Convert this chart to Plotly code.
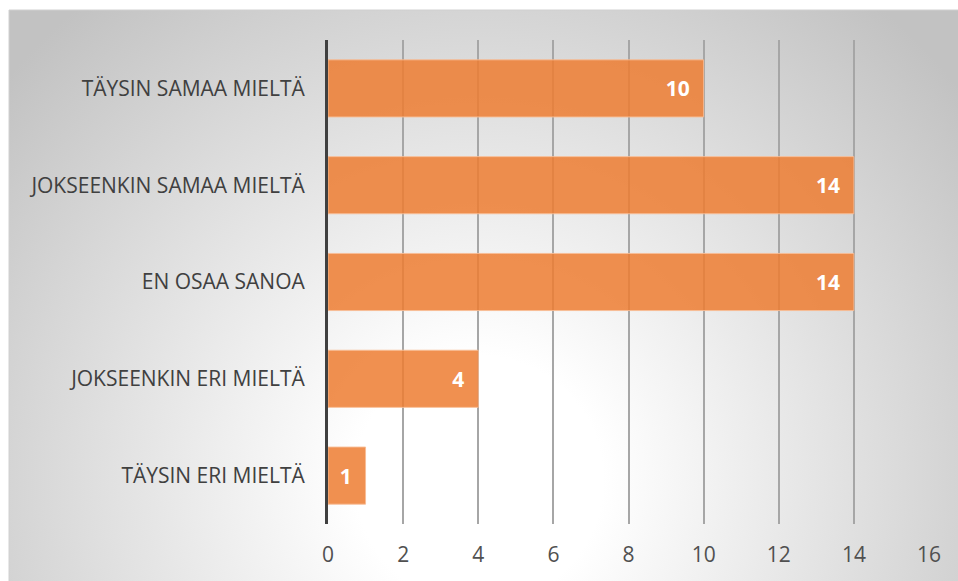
import plotly.graph_objects as go
import base64

categories = ["TÄYSIN SAMAA MIELTÄ", "JOKSEENKIN SAMAA MIELTÄ", "EN OSAA SANOA",
              "JOKSEENKIN ERI MIELTÄ", "TÄYSIN ERI MIELTÄ"]
values = [10, 14, 14, 4, 1]
x_ticks = [0, 2, 4, 6, 8, 10, 12, 14, 16]

W, H = 958, 581
L, R, T, B = 328, 29, 40, 57
pw, ph = W - L - R, H - T - B

def px_x(p):
    return (p - L) / pw

def px_y(p):
    return (H - B - p) / ph

# radial gradient background inside the chart border
bx0, by0 = 9, 10
bw, bh = W - bx0, H - by0
svg = f'''<svg xmlns="http://www.w3.org/2000/svg" width="{bw}" height="{bh}" viewBox="0 0 {bw} {bh}">
<defs><radialGradient id="g" gradientUnits="userSpaceOnUse" cx="470" cy="470" r="620">
<stop offset="0" stop-color="#ffffff"/><stop offset="0.2" stop-color="#ffffff"/>
<stop offset="1" stop-color="#c2c2c2"/></radialGradient></defs>
<rect x="0" y="0" width="{bw}" height="{bh}" fill="url(#g)"/></svg>'''
src = "data:image/svg+xml;base64," + base64.b64encode(svg.encode()).decode()

NB = "\u00a0\u00a0"

fig = go.Figure()
fig.add_trace(go.Bar(
    y=categories, x=values, orientation="h",
    marker=dict(color="rgba(237,125,49,0.85)", line=dict(color="rgba(248,190,150,0.9)", width=1)),
    text=[str(v) + NB for v in values], textposition="inside", insidetextanchor="end",
    textfont=dict(color="white", size=21, family="Open Sans", weight="bold"),
    constraintext="none",
    width=0.59, hoverinfo="skip",
))

fig.add_layout_image(dict(
    source=src, xref="paper", yref="paper",
    x=px_x(bx0), y=px_y(by0), sizex=bw / pw, sizey=bh / ph,
    sizing="stretch", xanchor="left", yanchor="top", layer="below",
))
fig.add_shape(type="rect", xref="paper", yref="paper",
              x0=px_x(bx0), x1=px_x(W + 2), y0=px_y(H + 2), y1=px_y(by0),
              line=dict(color="#d0d0d0", width=1), fillcolor="rgba(0,0,0,0)", layer="below")

fig.update_layout(
    width=W, height=H,
    margin=dict(l=L, r=R, t=T, b=B),
    paper_bgcolor="white", plot_bgcolor="rgba(0,0,0,0)",
    showlegend=False,
    font=dict(family="Open Sans", color="#404040"),
    uniformtext=dict(minsize=21, mode="show"),
    xaxis=dict(range=[0, 16], tickvals=x_ticks, ticktext=[str(t) for t in x_ticks],
               showgrid=True, gridcolor="#a6a6a6", gridwidth=1.5, zeroline=False,
               showline=False, tickfont=dict(size=21, color="#505050"),
               ticklabelstandoff=16, fixedrange=True),
    yaxis=dict(autorange="reversed", showgrid=False, zeroline=False,
               showline=True, linecolor="#404040", linewidth=3,
               tickfont=dict(size=21, color="#404040"), ticklabelstandoff=16,
               fixedrange=True),
)

fig.write_html("out.html", config={"displayModeBar": False},
               post_script="document.body.style.margin='0';document.body.style.overflow='hidden';")
